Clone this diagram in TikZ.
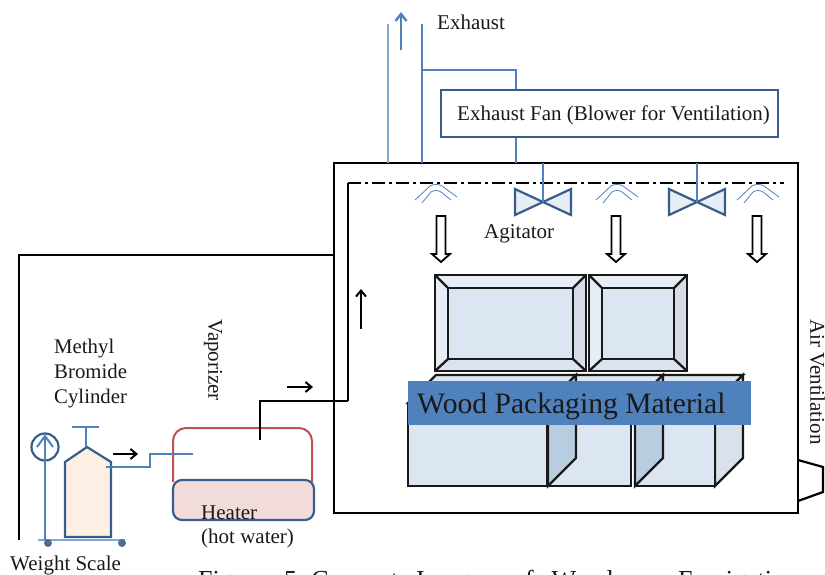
\documentclass[tikz,border=0pt]{standalone}
\usepackage{fontspec}
\setmainfont{Liberation Serif}
\usetikzlibrary{arrows.meta,positioning}
\definecolor{pipeblue}{RGB}{79,129,189}
\definecolor{darkblue}{RGB}{56,93,138}
\definecolor{boxfill}{RGB}{220,230,242}
\definecolor{boxlight}{RGB}{230,237,245}
\definecolor{boxright}{RGB}{213,220,230}
\definecolor{boxbottom}{RGB}{219,227,238}
\definecolor{panel}{RGB}{185,205,224}
\definecolor{panelgrey}{RGB}{218,225,234}
\definecolor{heaterfill}{RGB}{242,220,219}
\definecolor{vaporred}{RGB}{192,80,77}
\definecolor{cylfill}{RGB}{253,239,228}
\begin{document}
\begin{tikzpicture}[x=1pt,y=-1pt,line join=miter,
    every node/.style={font=\fontsize{21}{24}\selectfont,inner sep=0pt,text=black!90},
    pipe/.style={draw=pipeblue,line width=1.8pt},
    wall/.style={draw=black,line width=2.2pt},
    flow/.style={draw=black,line width=2pt,-{Straight Barb[length=6pt,width=10pt]}},
    valve/.style={draw=darkblue,line width=2.2pt,fill=boxlight},
    crate/.style={draw=black!90,line width=2.3pt,fill=boxfill},
    downarrow/.style={draw=black,line width=1.8pt,fill=white}]
  \useasboundingbox (0,0) rectangle (825,574);
  % chamber
  \draw[wall] (334,163) rectangle (798,513);
  \coordinate (chamberL) at (334,255);
  \coordinate (scaleL) at (19,540);
  \draw[wall] (chamberL) -- (19,255) -- (scaleL);
  \draw[wall] (798,460) -- (823,467) -- (823,492) -- (798,501);
  % exhaust
  \node[draw=darkblue,line width=2.2pt,minimum width=337pt,minimum height=47pt] (fan) at (609.5,113.5) {};
  \node[anchor=west] (fanlabel) at (457,115.5) {Exhaust Fan (Blower for Ventilation)};
  \node[anchor=west] (exhaust) at (437,22) {Exhaust};
  \draw[draw=pipeblue!70,line width=1.3pt] (388,24) -- (388,163);
  \draw[draw=pipeblue,line width=1.3pt] (422,24) -- (422,163);
  \draw[pipe] (422,70) -- (516,70) -- (fan.north -| 516,0);
  \draw[pipe] (fan.south -| 516,0) -- (516,163);
  \draw[draw=pipeblue,line width=2.4pt,-{Straight Barb[length=7pt,width=11pt]}] (401,50) -- (401,12);
  % duct
  \draw[wall] (348,401) -- (348,183);
  \draw[wall,dash pattern=on 13pt off 4pt on 3pt off 4pt] (348,183) -- (784,183);
  \draw[flow] (361,329) -- (361,289);
  \draw[flow] (287,387) -- (313,387);
  % agitators
  \foreach \x in {543,697}{
    \draw[valve] (\x-28,189) -- (\x+28,215) -- (\x+28,189) -- (\x-28,215) -- cycle;
    \draw[pipe] (\x,163) -- (\x,202);
  }
  \node[anchor=west] (agitator) at (484,234) {Agitator};
  % nozzles
  \foreach \x in {436,617,758}{
    \draw[draw=pipeblue,line width=.8pt] (\x-21,200) -- (\x-6,186) .. controls (\x-3,184) and (\x+3,184) .. (\x+6,186) -- (\x+21,197);
    \draw[draw=pipeblue,line width=.8pt] (\x-14,203) -- (\x-5,192) .. controls (\x-2,190) and (\x+2,190) .. (\x+5,192) -- (\x+15,200);
  }
  % down arrows
  \foreach \x in {441,616,757}{
    \draw[downarrow] (\x-4.5,216) -- (\x+4.5,216) -- (\x+4.5,254) -- (\x+9,254) -- (\x,262) -- (\x-9,254) -- (\x-4.5,254) -- cycle;
  }
  % upper crates
  \foreach \xa/\xb in {435/586,589/687}{
    \fill[boxfill] (\xa,275) rectangle (\xb,371);
    \fill[boxlight] (\xa,275) -- (\xb,275) -- (\xb-13,288) -- (\xa+13,288) -- cycle;
    \fill[boxlight] (\xa,275) -- (\xa+13,288) -- (\xa+13,359) -- (\xa,371) -- cycle;
    \fill[boxright] (\xb,275) -- (\xb-13,288) -- (\xb-13,359) -- (\xb,371) -- cycle;
    \fill[boxbottom] (\xa,371) -- (\xa+13,359) -- (\xb-13,359) -- (\xb,371) -- cycle;
    \draw[crate,fill=none] (\xa,275) rectangle (\xb,371);
    \draw[crate,fill=none] (\xa+13,288) rectangle (\xb-13,359);
    \draw[crate] (\xa,275) -- (\xa+13,288) (\xb,275) -- (\xb-13,288) (\xa,371) -- (\xa+13,359) (\xb,371) -- (\xb-13,359);
  }
  % lower crates
  \foreach \xa/\xb/\xs/\side in {635/715/715/panelgrey,548/631/635/panel,408/547/548/panel}{
    \draw[crate] (\xa+28,375) -- (\xs+28,375) -- (\xs,403) -- (\xa,403) -- cycle;
    \draw[crate,fill=\side] (\xs,403) -- (\xs+28,375) -- (\xs+28,458) -- (\xs,486) -- cycle;
    \draw[crate] (\xa,403) rectangle (\xb,486);
  }
  \node[fill=pipeblue,anchor=north west,minimum width=343pt,minimum height=44pt] (woodband) at (408,381) {};
  \node[anchor=west,font=\fontsize{29.6}{32}\selectfont] (wood) at (417,406) {Wood Packaging Material};
  % side labels
  \node[rotate=-90,anchor=west] (airvent) at (817.5,319) {Air Ventilation};
  \node[rotate=-90,anchor=west] (vaporizerlabel) at (213,319) {Vaporizer};
  \node[anchor=north west,align=left,font=\fontsize{20.8}{25}\selectfont] (cylinderlabel) at (54,339) {Methyl\\Bromide\\Cylinder};
  % vaporizer and heater
  \draw[draw=vaporred,line width=2pt,rounded corners=13pt] (173,482) -- (173,428) -- (312,428) -- (312,482);
  \node[draw=darkblue,line width=2.2pt,fill=heaterfill,rounded corners=9pt,minimum width=141pt,minimum height=40pt] (heater) at (243.5,500) {};
  \node[anchor=west] (heaterlabel) at (201,513) {Heater};
  \node[anchor=west] (hotwater) at (201,538) {(hot water)};
  \draw[wall] (260,440) -- (260,401) -- (348,401);
  % cylinder and scale
  \draw[draw=darkblue,line width=2.2pt,fill=cylfill] (65,537) -- (65,462) -- (87,447) -- (111,462) -- (111,537) -- cycle;
  \draw[draw=pipeblue,line width=1.6pt] (72,427) -- (99,427) (86,427) -- (86,447);
  \draw[draw=pipeblue!70,line width=1.6pt] (38,540) -- (125,540);
  \node[draw=darkblue,circle,line width=2.2pt,minimum size=27pt] (gauge) at (45,447) {};
  \fill[darkblue!90] (48,543) circle (4pt) coordinate (wheelA) (122,543) circle (4pt) coordinate (wheelB);
  \draw[draw=pipeblue,line width=2pt] (45,540) -- (45,436);
  \draw[draw=pipeblue,line width=2pt] (37,447) -- (45,436) -- (53,447);
  \node[anchor=west] (scalelabel) at (10,565) {Weight Scale};
  \draw[pipe] (106,467) -- (150,467) -- (150,454) -- (193,454);
  \draw[flow] (113,454) -- (138,454);
  % caption
  \node[anchor=west,font=\fontsize{26}{28}\selectfont] (caption) at (198,582) {\spaceskip=18pt Figure 5:\hspace{-13pt} Concept Image\hspace{13pt} of Wood\hspace{47pt} Fumigation};
\end{tikzpicture}
\end{document}
